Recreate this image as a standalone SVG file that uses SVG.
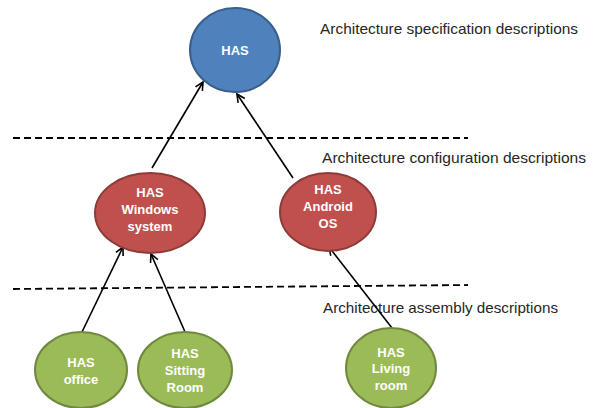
<svg xmlns="http://www.w3.org/2000/svg" width="609" height="408" viewBox="0 0 609 408">
<defs>
<marker id="arr" markerWidth="12" markerHeight="12" refX="9" refY="5" orient="auto" markerUnits="userSpaceOnUse">
<path d="M1,1 L9,5 L1,9" fill="none" stroke="#000" stroke-width="1.6"/>
</marker>
<style>
.blue{fill:#4F81BD;stroke:#3A5F8C;stroke-width:2}
.red{fill:#C0504D;stroke:#8E3B38;stroke-width:2}
.green{fill:#9BBB59;stroke:#71893F;stroke-width:2}
.nt{font-family:"Liberation Sans",Arial,sans-serif;font-weight:bold;font-size:13px;fill:#fff;text-anchor:middle}
.lbl{font-family:"Liberation Sans",Arial,sans-serif;font-size:15px;fill:#262626}
.dash{stroke:#000;stroke-width:1.8;stroke-dasharray:7 4;fill:none}
.edge{stroke:#000;stroke-width:1.6;fill:none;marker-end:url(#arr)}
</style>
</defs>
<rect width="609" height="408" fill="#fff"/>
<g id="separators">
<line class="dash" x1="13" y1="138" x2="468" y2="138"/>
<line class="dash" x1="13" y1="289" x2="468" y2="285"/>
</g>
<g id="labels">
<text class="lbl" x="320" y="34" textLength="258" lengthAdjust="spacingAndGlyphs">Architecture specification descriptions</text>
<text class="lbl" x="322" y="163" textLength="264" lengthAdjust="spacingAndGlyphs">Architecture configuration descriptions</text>
<text class="lbl" x="323" y="313" textLength="235" lengthAdjust="spacingAndGlyphs">Architecture assembly descriptions</text>
</g>
<g id="connectors">
<line class="edge" x1="152" y1="168" x2="203" y2="82"/>
<line class="edge" x1="293" y1="178" x2="237" y2="94"/>
<line class="edge" x1="82" y1="332" x2="123" y2="247"/>
<line class="edge" x1="185" y1="332" x2="151" y2="254"/>
<line class="edge" x1="392" y1="328" x2="329" y2="247"/>
</g>
<g id="has">
<ellipse class="blue" cx="235" cy="50" rx="45" ry="42"/>
<text class="nt" x="235" y="55">HAS</text>
</g>
<g id="has-windows">
<ellipse class="red" cx="150" cy="213" rx="55" ry="40"/>
<text class="nt" x="150" y="197">HAS</text>
<text class="nt" x="150" y="214">Windows</text>
<text class="nt" x="150" y="231">system</text>
</g>
<g id="has-android">
<ellipse class="red" cx="328" cy="212" rx="48" ry="39"/>
<text class="nt" x="328" y="194">HAS</text>
<text class="nt" x="328" y="211">Android</text>
<text class="nt" x="328" y="228">OS</text>
</g>
<g id="has-office">
<ellipse class="green" cx="81" cy="370" rx="46" ry="38"/>
<text class="nt" x="81" y="367">HAS</text>
<text class="nt" x="81" y="384">office</text>
</g>
<g id="has-sitting-room">
<ellipse class="green" cx="185" cy="370" rx="47" ry="38"/>
<text class="nt" x="185" y="358">HAS</text>
<text class="nt" x="185" y="375">Sitting</text>
<text class="nt" x="185" y="392">Room</text>
</g>
<g id="has-living-room">
<ellipse class="green" cx="391" cy="368" rx="45" ry="40"/>
<text class="nt" x="391" y="357">HAS</text>
<text class="nt" x="391" y="373">Living</text>
<text class="nt" x="391" y="390">room</text>
</g>
</svg>
